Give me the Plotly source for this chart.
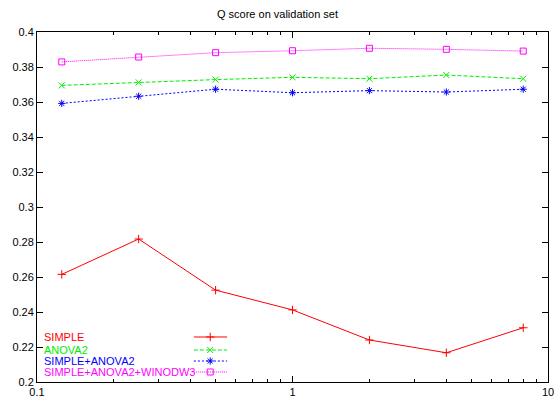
import plotly.graph_objects as go

x_vals = [0.125, 0.25, 0.5, 1, 2, 4, 8]
simple = [0.2615, 0.2817, 0.2525, 0.2412, 0.2240, 0.2167, 0.2310]
anova2 = [0.3695, 0.3712, 0.3728, 0.3741, 0.3733, 0.3754, 0.3733]
simple_anova2 = [0.3592, 0.3633, 0.3673, 0.3653, 0.3665, 0.3657, 0.3673]
simple_anova2_w3 = [0.3829, 0.3857, 0.3882, 0.3893, 0.3907, 0.3901, 0.3891]

names = ["SIMPLE", "ANOVA2", "SIMPLE+ANOVA2", "SIMPLE+ANOVA2+WINODW3"]
colors = ["#ff0000", "#00ee00", "#0000ff", "#ff00ff"]
dashes = ["solid", "4px,2px", "2px,2px", "1px,1px"]
symbols = ["cross-thin-open", "x-thin-open", "asterisk-open", "square-open"]
series = [simple, anova2, simple_anova2, simple_anova2_w3]

fig = go.Figure()
for name, ys, c, d, s in zip(names, series, colors, dashes, symbols):
    fig.add_trace(go.Scatter(
        x=x_vals, y=ys, mode="lines+markers", name=name,
        line=dict(color=c, width=1, dash=d),
        marker=dict(symbol=s, size=6, color=c, line=dict(color=c, width=1)),
        showlegend=False))

# custom gnuplot-style legend (text then line sample)
leg_y = [0.1286, 0.0914, 0.06, 0.0286]
for i, (name, c, d, s) in enumerate(zip(names, colors, dashes, symbols)):
    fig.add_annotation(xref="x2", yref="y2", x=0.0137, y=leg_y[i], text=name,
                       showarrow=False, xanchor="left", yanchor="middle",
                       xshift=-2,
                       font=dict(color=c, size=11, family="Liberation Sans, Arial, sans-serif"))
    fig.add_trace(go.Scatter(x=[0.307, 0.372], y=[leg_y[i], leg_y[i]], mode="lines",
                             line=dict(color=c, width=1, dash=d), xaxis="x2", yaxis="y2",
                             showlegend=False, hoverinfo="skip"))
    fig.add_trace(go.Scatter(x=[0.339], y=[leg_y[i]], mode="markers",
                             marker=dict(symbol=s, size=6, color=c, line=dict(color=c, width=1)),
                             xaxis="x2", yaxis="y2", showlegend=False, hoverinfo="skip"))

font = dict(family="Liberation Sans, Arial, sans-serif", size=11, color="#000000")
fig.update_layout(
    width=555, height=398,
    margin=dict(l=37, r=7, t=32, b=16, autoexpand=False),
    paper_bgcolor="white", plot_bgcolor="white",
    font=font,
    title=dict(text="Q score on validation set", x=0.5, xanchor="center", y=0.965, yanchor="middle",
               font=dict(size=11, family="Liberation Sans, Arial, sans-serif")),
    xaxis=dict(type="log", range=[-1, 1], tickvals=[0.1, 1, 10], ticktext=["0.1", "1", "10"],
               ticks="inside", ticklen=6, tickcolor="black", showline=True, linecolor="black",
               linewidth=1, mirror="ticks", showgrid=False, zeroline=False,
               minor=dict(ticks="inside", ticklen=3, tickcolor="black",
                          tickvals=[0.2, 0.3, 0.4, 0.5, 0.6, 0.7, 0.8, 0.9, 2, 3, 4, 5, 6, 7, 8, 9])),
    yaxis=dict(range=[0.2, 0.4], dtick=0.02, tick0=0.2, ticks="inside", ticklen=6, tickcolor="black",
               showline=True, linecolor="black", linewidth=1, mirror="ticks", showgrid=False,
               zeroline=False, tickformat="~g"),
    xaxis2=dict(domain=[0, 1], range=[0, 1], overlaying="x", visible=False, fixedrange=True),
    yaxis2=dict(domain=[0, 1], range=[0, 1], overlaying="y", anchor="x2", visible=False, fixedrange=True),
)

fig.write_html("out.html", config={"displayModeBar": False},
               post_script="document.body.style.margin='0';document.body.style.overflow='hidden';")
